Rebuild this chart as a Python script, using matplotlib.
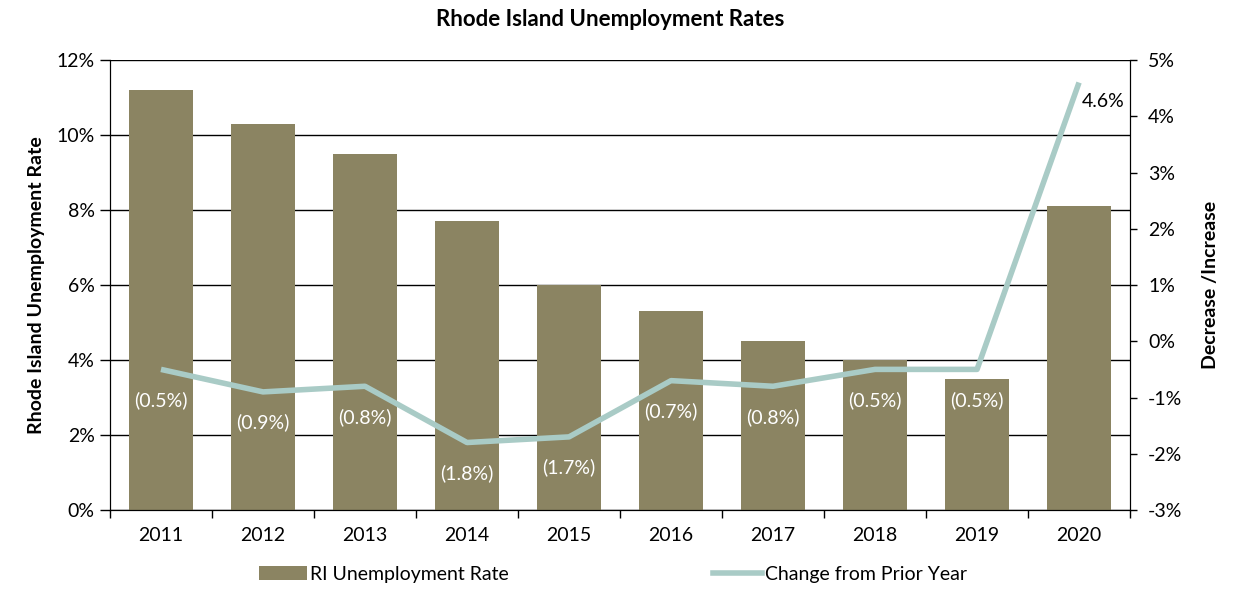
import matplotlib.pyplot as plt
from matplotlib.ticker import FuncFormatter
from matplotlib.lines import Line2D
from matplotlib.patches import Patch

plt.rcParams['font.family'] = ['Lato', 'DejaVu Sans']

years = ['2011', '2012', '2013', '2014', '2015', '2016', '2017', '2018', '2019', '2020']
rate = [11.2, 10.3, 9.5, 7.7, 6.0, 5.3, 4.5, 4.0, 3.5, 8.1]
change = [-0.5, -0.9, -0.8, -1.8, -1.7, -0.7, -0.8, -0.5, -0.5, 4.6]

BAR_COLOR = '#8b8462'
LINE_COLOR = '#a9cbc6'
FS = 14

fig = plt.figure(figsize=(12.33, 5.89), dpi=100)
ax = fig.add_axes([0.0892, 0.1341, 0.8273, 0.7640])
x = list(range(len(years)))

ax.set_axisbelow(True)
ax.yaxis.grid(True, color='black', linewidth=1)
ax.bar(x, rate, width=0.62, color=BAR_COLOR, zorder=2)
ax.set_ylim(0, 12)
ax.set_yticks(range(0, 13, 2))
ax.yaxis.set_major_formatter(FuncFormatter(lambda v, p: f'{v:.0f}%'))
ax.set_xlim(-0.5, len(years) - 0.5)
ax.set_xticks(x)
ax.set_xticklabels(years)
ax.set_xticks([i + 0.5 for i in range(-1, len(years))], minor=True)
ax.tick_params(axis='x', which='major', length=0, pad=12, labelsize=FS)
ax.tick_params(axis='x', which='minor', length=6, width=1, direction='out')
ax.tick_params(axis='y', length=7, width=1, direction='out', labelsize=FS, pad=4)
ax.spines['top'].set_visible(False)
ax.set_ylabel('Rhode Island Unemployment Rate', fontsize=FS, fontweight='bold', labelpad=8)

ax2 = ax.twinx()
ax2.plot(x, change, color=LINE_COLOR, linewidth=4, solid_capstyle='butt', zorder=3)
ax2.set_ylim(-3, 5)
ax2.set_yticks(range(-3, 6))
ax2.yaxis.set_major_formatter(FuncFormatter(lambda v, p: f'{v:.0f}%'))
ax2.tick_params(axis='y', length=5, width=1, direction='out', labelsize=FS, pad=8)
ax2.spines['top'].set_visible(False)
ax2.set_ylabel('Decrease /Increase', fontsize=FS, fontweight='bold', labelpad=14)

for xi, v in zip(x, change):
    if v < 0:
        ax2.annotate(f'({abs(v):.1f}%)', (xi, v), xytext=(0, -22), textcoords='offset points',
                     ha='center', va='center', color='white', fontsize=FS)
    else:
        ax2.annotate(f'{v:.1f}%', (xi, v), xytext=(2, -14), textcoords='offset points',
                     ha='left', va='center', color='black', fontsize=FS)

fig.suptitle('Rhode Island Unemployment Rates', x=0.495, y=0.985, fontsize=16, fontweight='bold')

handles = [Patch(facecolor=BAR_COLOR), Line2D([0], [0], color=LINE_COLOR, linewidth=4)]
fig.legend(handles, ['RI Unemployment Rate', 'Change from Prior Year'], loc='center',
           bbox_to_anchor=(0.497, 0.025), ncol=2, frameon=False, fontsize=FS,
           columnspacing=10.5, handlelength=2.5, handletextpad=0.15)

fig.savefig('out.png', dpi=100)
